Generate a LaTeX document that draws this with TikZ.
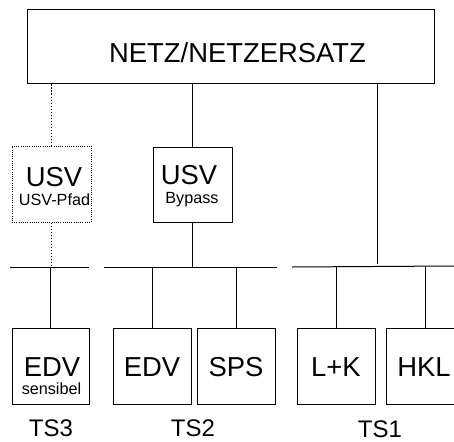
\documentclass[tikz,border=0pt]{standalone}
\usepackage{fontspec}
\setmainfont{Liberation Sans}
\begin{document}
\begin{tikzpicture}[x=1pt,y=-1pt,line width=1pt,
  box/.style={draw,rectangle,inner sep=0pt,minimum height=76pt,minimum width=78pt},
  dotbox/.style={box,dash pattern=on 1pt off 1.2pt},
  dotline/.style={dash pattern=on 1.2pt off 1.8pt},
  big/.style={font=\fontsize{27.4}{30}\selectfont,inner sep=0pt,anchor=base},
  small/.style={font=\fontsize{16.2}{18}\selectfont,inner sep=0pt,anchor=base},
  ts/.style={font=\fontsize{24}{28}\selectfont,inner sep=0pt,anchor=base}]
\useasboundingbox (0,0) rectangle (454,441);
\clip (0,0) rectangle (454,441);
% top box
\node[box,minimum width=407pt,minimum height=74pt] (netz) at (230.5,47) {};
\node[big] (netzt) at (237.5,63) {NETZ/NETZERSATZ};
% USV boxes
\node[dotbox,minimum width=79pt] (usv3) at (51.5,184) {};
\node[big] (usv3t) at (54,186) {USV};
\node[small] (usv3s) at (54.5,205) {USV-Pfad};
\node[box,minimum width=79pt,minimum height=75pt] (usv2) at (192.5,184.5) {};
\node[big] (usv2t) at (189,184) {USV};
\node[small] (usv2s) at (192,203) {Bypass};
% bottom boxes
\node[box,minimum width=77pt] (b1) at (50.5,366) {};
\node[box] (b2) at (152,366) {};
\node[box] (b3) at (236,366) {};
\node[box] (b4) at (336,366) {};
\node[box] (b5) at (425,366) {};
\node[big] (b1t) at (52,376) {EDV};
\node[small] (b1s) at (51.5,394) {sensibel};
\node[big] (b2t) at (152,376) {EDV};
\node[big] (b3t) at (236,376) {SPS};
\node[big] (b4t) at (336,376) {L+K};
\node[big] (b5t) at (424,376) {HKL};
% group labels
\node[ts] (ts3) at (51,436.5) {TS3};
\node[ts] (ts2) at (193,436.5) {TS2};
\node[ts] (ts1) at (380,437) {TS1};
% buses
\coordinate (bus1l) at (10,267); \coordinate (bus1r) at (89,267);
\coordinate (bus2l) at (104,267); \coordinate (bus2r) at (277,267);
\coordinate (bus3l) at (292,267); \coordinate (bus3r) at (454,266);
\draw (bus1l) -- (bus1r);
\draw (bus2l) -- (bus2r);
\draw (bus3l) -- (bus3r);
% TS3 path
\coordinate (j1) at (51,267);
\draw[dotline] (netz.south -| usv3.north) -- (usv3.north);
\draw[dotline] (usv3.south) -- (usv3.south |- j1);
\draw (b1.north |- j1) -- (b1.north);
% TS2 path
\coordinate (j2) at (192.5,267);
\draw (netz.south -| usv2.north) -- (usv2.north);
\draw (usv2.south) -- (j2);
\draw (b2.north |- j2) -- (b2.north);
\draw (b3.north |- j2) -- (b3.north);
% TS1 path
\coordinate (j3) at (377,264);
\draw (netz.south -| j3) -- (j3);
\draw (b4.north |- bus3l) -- (b4.north);
\draw (b5.north |- bus3l) -- (b5.north);
\end{tikzpicture}
\end{document}
